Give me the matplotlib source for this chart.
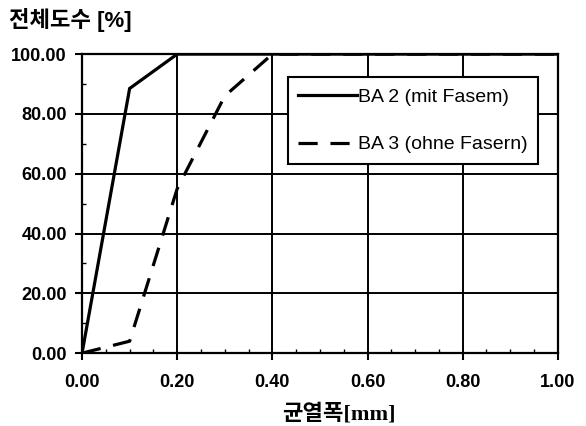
import numpy as np
import matplotlib
matplotlib.use('Agg')
import matplotlib.pyplot as plt
from matplotlib.ticker import MultipleLocator, FormatStrFormatter

# crack width [mm] vs cumulative frequency [%]
crack_ba2 = [0.0, 0.1, 0.2, 1.0]
freq_ba2 = [0.0, 88.5, 100.0, 100.0]
crack_ba3 = [0.0, 0.1, 0.2, 0.3, 0.4, 1.0]
freq_ba3 = [0.0, 4.0, 55.0, 86.0, 100.0, 100.0]

label_ba2 = 'BA 2 (mit Fasem)'
label_ba3 = 'BA 3 (ohne Fasern)'
xticks = [0.0, 0.2, 0.4, 0.6, 0.8, 1.0]
yticks = [0.0, 20.0, 40.0, 60.0, 80.0, 100.0]

plt.rcParams['font.family'] = ['Liberation Sans', 'Noto Sans CJK KR']

fig = plt.figure(figsize=(5.86, 4.26), dpi=100)
ax = fig.add_axes([0.140, 0.171, 0.812, 0.702])

ax.plot(crack_ba2, freq_ba2, color='black', lw=2.3, label=label_ba2, solid_joinstyle='miter')
ax.plot(crack_ba3, freq_ba3, color='black', lw=2.3, dashes=(6, 4), label=label_ba3)

ax.set_xlim(0, 1.0)
ax.set_ylim(0, 100)
ax.set_xticks(xticks)
ax.set_yticks(yticks)
ax.xaxis.set_major_formatter(FormatStrFormatter('%.2f'))
ax.yaxis.set_major_formatter(FormatStrFormatter('%.2f'))
ax.xaxis.set_minor_locator(MultipleLocator(0.05))
ax.yaxis.set_minor_locator(MultipleLocator(10))
ax.tick_params(which='major', direction='out', length=5, width=1.5, color='black',
               labelsize=13, pad=6)
ax.tick_params(which='minor', direction='in', length=3, width=1.0, color='black')
for lab in ax.get_xticklabels() + ax.get_yticklabels():
    lab.set_fontweight('bold')
ax.tick_params(axis='x', pad=10)

ax.grid(True, which='major', color='black', lw=1.4)
for sp in ax.spines.values():
    sp.set_linewidth(1.6)
    sp.set_color('black')

leg = ax.legend(loc='upper right', bbox_to_anchor=(0.958, 0.922), fontsize=14,
                handlelength=3.0, handletextpad=0.05, labelspacing=1.55,
                fancybox=False, framealpha=1, edgecolor='black', borderpad=0.55,
                borderaxespad=0.0)
leg.get_frame().set_linewidth(1.5)

fig.text(0.015, 0.953, '전체도수 [%]', fontsize=16, fontweight='bold',
         ha='left', va='center')
fig.text(0.578, 0.028, '균열폭[mm]', fontsize=16, fontweight='bold',
         family=['Liberation Serif', 'Noto Sans CJK KR'], ha='center', va='center')

fig.savefig('out.png', dpi=100)
